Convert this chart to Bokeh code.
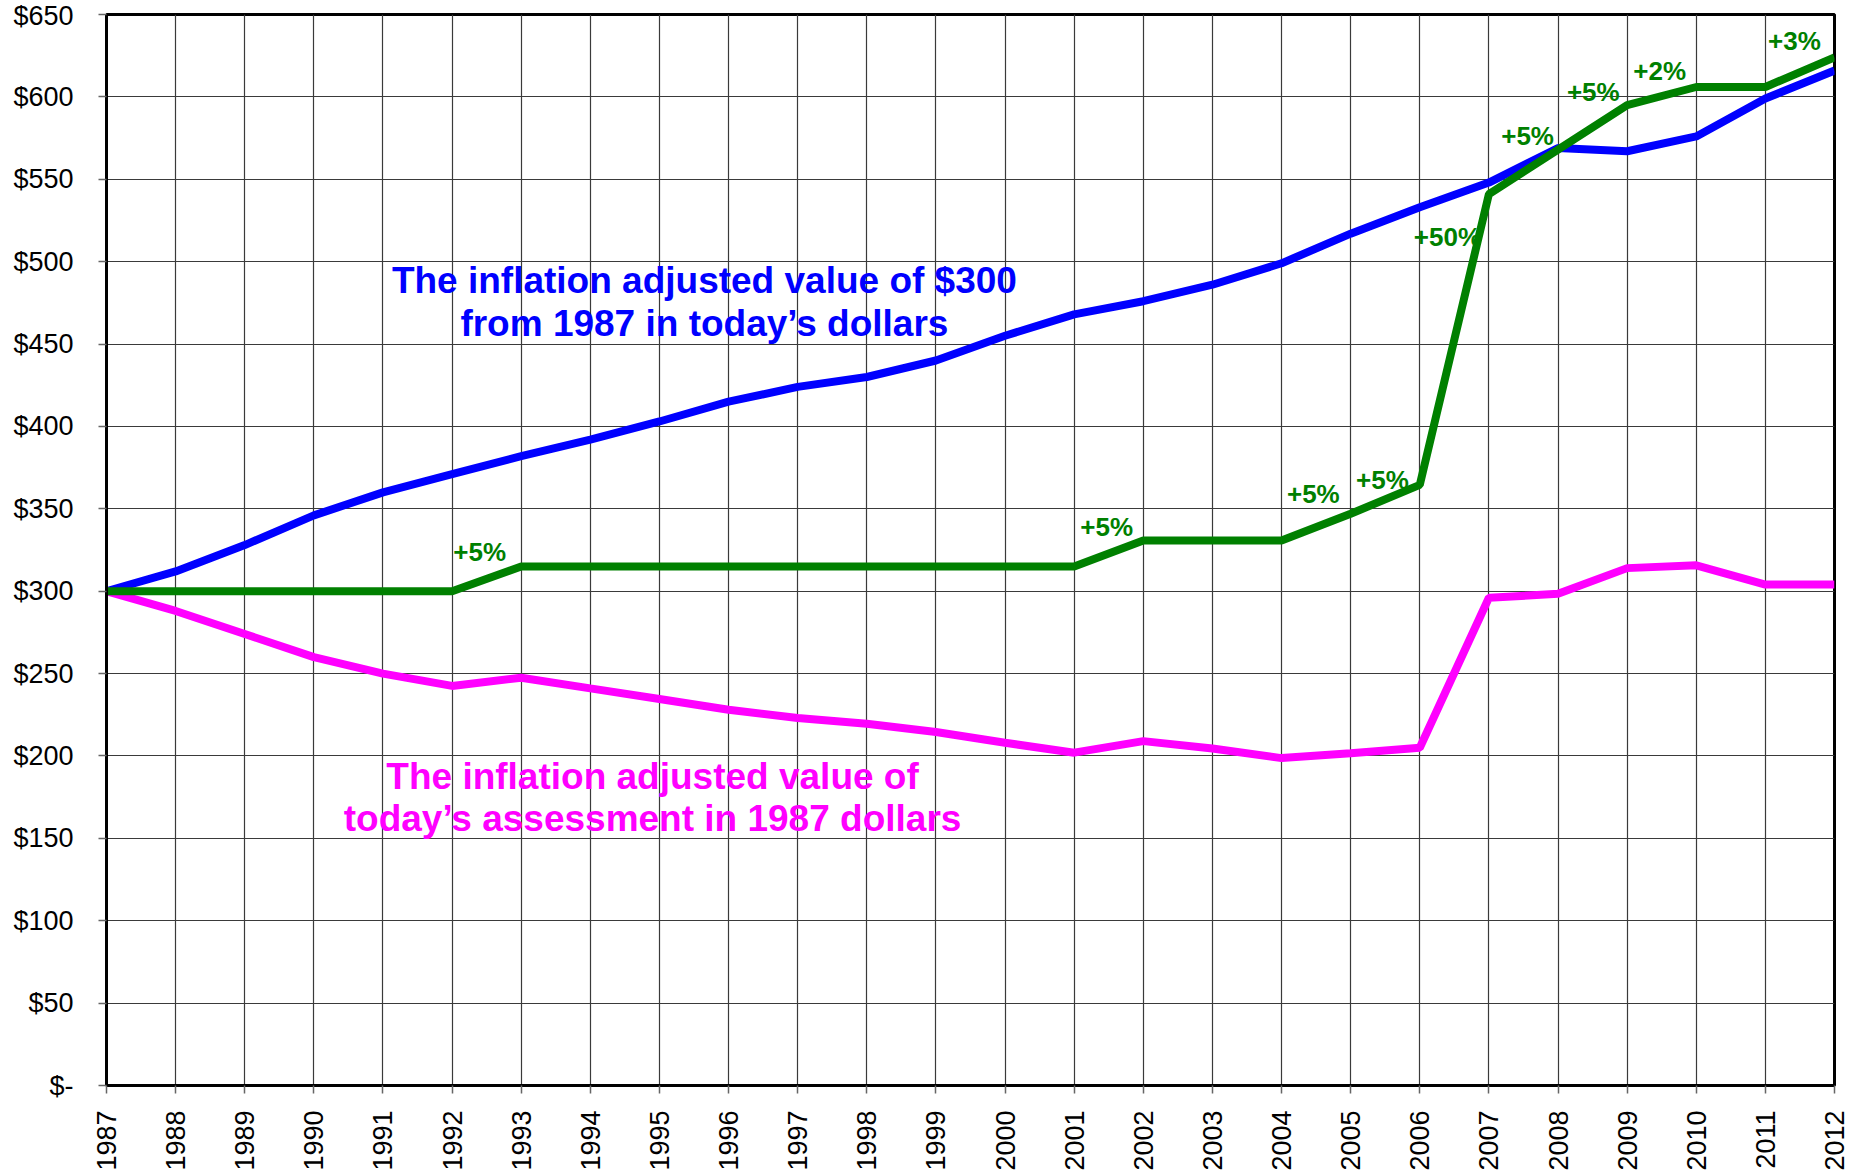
from bokeh.plotting import figure
from bokeh.models import Range1d, FixedTicker
from bokeh.embed import file_html
from bokeh.resources import INLINE
from bokeh.core.properties import value
import math

years = list(range(1987, 2013))
blue_today = [300, 312, 328, 346, 360, 371, 382, 392, 403, 415, 424, 430, 440, 455,
              468, 476, 486, 499, 517, 533, 548, 569, 567, 576, 599, 616]
green_assess = [300, 300, 300, 300, 300, 300, 315, 315, 315, 315, 315, 315, 315, 315,
                315, 330.75, 330.75, 330.75, 347, 364.5, 541, 568, 595, 606, 606, 624]
magenta_1987 = [300, 288, 274, 260, 250, 242.5, 247.5, 241, 234.6, 228, 223, 219.5, 214.5, 208,
                202, 209, 204.5, 198.7, 201.6, 205, 296, 298.4, 314, 315.7, 304, 304]

y_ticks = list(range(0, 651, 50))
y_tick_labels = ["$-"] + ["$%d" % v for v in y_ticks[1:]]

pct_labels = ["+5%", "+5%", "+5%", "+5%", "+50%", "+5%", "+5%", "+2%", "+3%"]
pct_x = [1992.40, 2001.47, 2004.46, 2005.46, 2006.40, 2007.56, 2008.51, 2009.47, 2011.42]
pct_y = [324, 338.7, 358.7, 367.2, 514.7, 576, 602.7, 616, 634.2]

blue_text = ["The inflation adjusted value of $300", "from 1987 in today\u2019s dollars"]
blue_text_x = [1995.65, 1995.65]
blue_text_y = [488.6, 462.5]
mag_text = ["The inflation adjusted value of", "today\u2019s assessment in 1987 dollars"]
mag_text_x = [1994.9, 1994.9]
mag_text_y = [187.5, 162]

FONT = "Liberation Sans"

p = figure(frame_width=1728, frame_height=1071, output_backend="svg", toolbar_location=None,
           x_range=Range1d(1987, 2012), y_range=Range1d(0, 650),
           min_border_left=106, min_border_top=14, min_border_right=18, min_border_bottom=85)
p.background_fill_color = "white"
p.border_fill_color = "white"
p.outline_line_color = "black"
p.outline_line_width = 3

# grid
p.xgrid.ticker = FixedTicker(ticks=years)
p.ygrid.ticker = FixedTicker(ticks=y_ticks)
for g in (p.xgrid, p.ygrid):
    g.grid_line_color = "#3a3a3a"
    g.grid_line_width = 1.2

# axes
p.xaxis.ticker = FixedTicker(ticks=years)
p.yaxis.ticker = FixedTicker(ticks=y_ticks)
p.yaxis.major_label_overrides = {v: s for v, s in zip(y_ticks, y_tick_labels)}
p.xaxis.major_label_orientation = math.pi / 2
for ax in (p.xaxis, p.yaxis):
    ax.axis_line_color = "black"
    ax.axis_line_width = 3
    ax.major_tick_line_color = "#666666"
    ax.major_tick_line_width = 1.5
    ax.major_tick_out = 8
    ax.major_tick_in = 0
    ax.minor_tick_line_color = None
    ax.major_label_text_font = FONT
    ax.major_label_text_font_size = "27px"
    ax.major_label_text_color = "black"
p.yaxis.major_label_standoff = 25
p.xaxis.major_label_standoff = 17

p.line(years, blue_today, line_color="#0000FF", line_width=8)
p.line(years, magenta_1987, line_color="#FF00FF", line_width=8)
p.line(years, green_assess, line_color="#008000", line_width=8)

p.text(x=pct_x, y=pct_y, text=pct_labels, text_color="#008000", text_font=value(FONT),
       text_font_style="bold", text_font_size="26px", text_align="center", text_baseline="middle")
p.text(x=blue_text_x, y=blue_text_y, text=blue_text, text_color="#0000FF", text_font=value(FONT),
       text_font_style="bold", text_font_size="37px", text_align="center", text_baseline="middle")
p.text(x=mag_text_x, y=mag_text_y, text=mag_text, text_color="#FF00FF", text_font=value(FONT),
       text_font_style="bold", text_font_size="37px", text_align="center", text_baseline="middle")

open("out.html", "w").write(file_html(p, INLINE))
